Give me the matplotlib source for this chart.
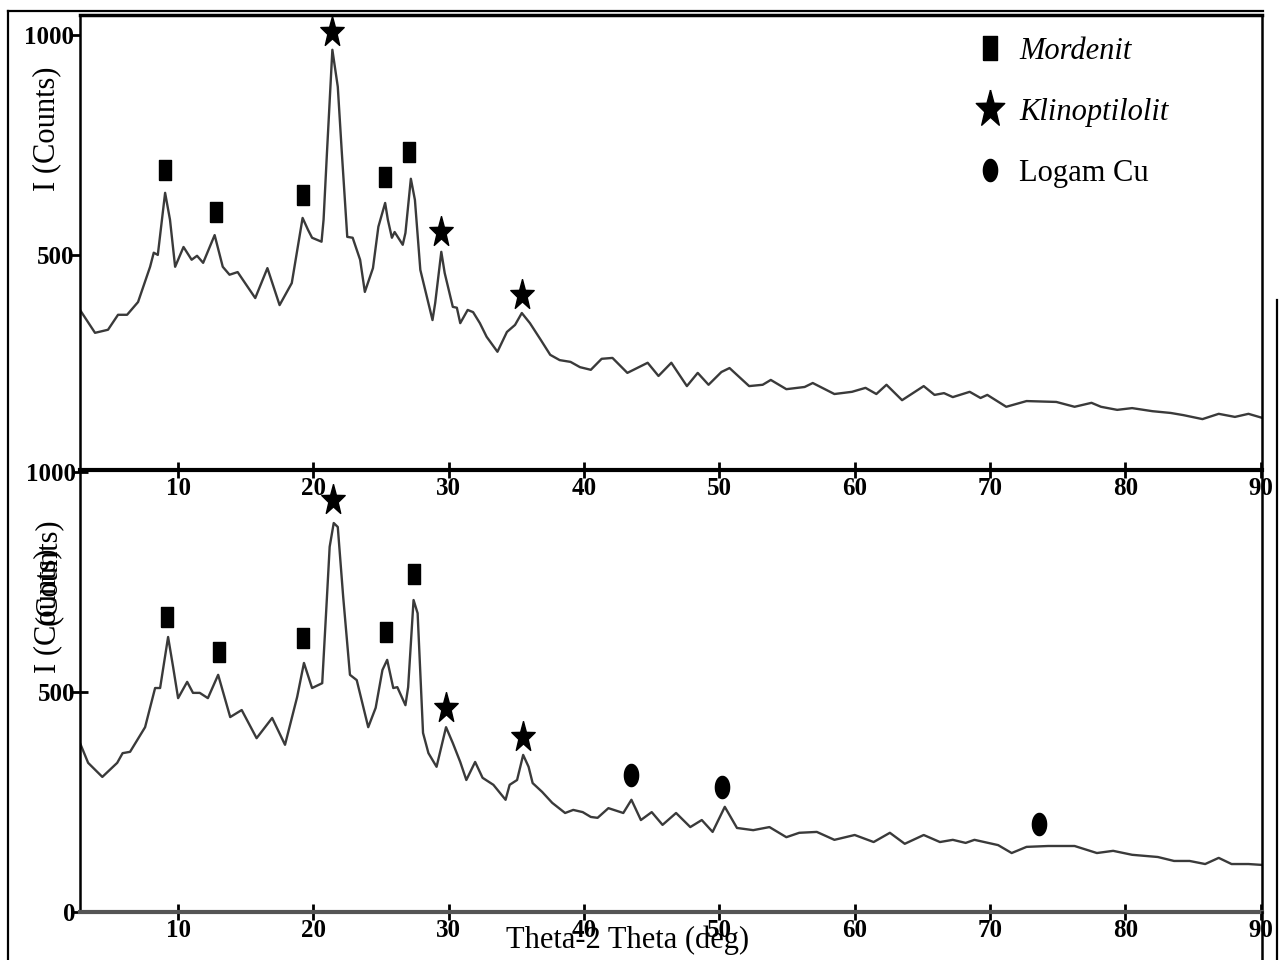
import numpy as np
import matplotlib
matplotlib.use("Agg")
from matplotlib import pyplot as plt
from matplotlib.lines import Line2D

plt.rcParams['font.family'] = ['Liberation Serif', 'DejaVu Serif']

# XRD pattern, zeolite before loading (top)
top_x = [2.75, 3.86, 4.82, 5.56, 6.23, 7.04, 7.93, 8.2, 8.5, 9.04, 9.4, 9.78, 10.4, 11.0, 11.4,
         11.85, 12.7, 13.3, 13.8, 14.4, 15.7, 16.6, 17.5, 18.4, 19.2, 19.6, 19.9, 20.6, 20.75,
         21.0, 21.4, 21.8, 22.1, 22.5, 22.9, 23.45, 23.8, 24.4, 24.8, 25.3, 25.5, 25.8, 26.0,
         26.6, 26.8, 27.2, 27.5, 27.9, 28.8, 29.0, 29.45, 29.7, 30.3, 30.6, 30.85, 31.4, 31.8,
         32.3, 32.8, 33.6, 34.3, 34.9, 35.4, 36.0, 36.8, 37.5, 38.2, 39.0, 39.7, 40.5, 41.3,
         42.1, 43.2, 44.7, 45.5, 46.45, 47.6, 48.4, 49.2, 50.15, 50.75, 52.2, 53.2, 53.8, 54.95,
         56.3, 56.9, 58.5, 59.8, 60.8, 61.6, 62.35, 63.5, 65.1, 65.9, 66.6, 67.25, 68.5, 69.3,
         69.8, 71.2, 72.7, 74.9, 76.25, 77.5, 78.2, 79.4, 80.5, 82.0, 83.35, 84.3, 85.7, 86.9,
         88.1, 89.1, 90.1]
top_y = [375, 323, 330, 364, 364, 393, 473, 505, 500, 641, 580, 473, 518, 489, 498,
         482, 545, 473, 455, 461, 402, 470, 386, 436, 584, 557, 539, 530, 580,
         732, 966, 882, 732, 541, 539, 489, 416, 470, 564, 618, 580, 539, 552,
         523, 550, 673, 625, 466, 352, 391, 507, 459, 382, 380, 345, 375, 370,
         345, 314, 280, 325, 341, 368, 345, 307, 273, 261, 257, 245, 239, 264,
         266, 232, 255, 225, 255, 202, 232, 205, 234, 243, 202, 205, 216, 195,
         200, 209, 184, 189, 198, 184, 205, 170, 202, 182, 186, 177, 189, 175,
         182, 155, 168, 166, 155, 164, 155, 148, 152, 145, 141, 136, 127, 139,
         132, 139, 130]

# XRD pattern after Cu loading (bottom)
bot_x = [2.75, 3.35, 4.4, 5.5, 5.9, 6.45, 7.56, 8.3, 8.67, 9.26, 9.63, 10.0, 10.67, 11.1, 11.6,
         12.2, 12.96, 13.85, 14.7, 15.8, 16.95, 17.9, 18.8, 19.3, 19.9, 20.65, 21.0, 21.2, 21.5,
         21.8, 22.2, 22.7, 23.2, 24.05, 24.6, 25.1, 25.45, 25.9, 26.2, 26.8, 27.0, 27.4, 27.7,
         28.1, 28.5, 29.1, 29.8, 30.3, 30.85, 31.3, 31.95, 32.5, 33.3, 34.2, 34.5, 35.05, 35.5,
         35.9, 36.2, 36.9, 37.65, 38.6, 39.2, 39.9, 40.5, 41.0, 41.8, 42.9, 43.5, 44.2, 45.0,
         45.8, 46.8, 47.85, 48.7, 49.5, 50.4, 51.3, 52.5, 53.7, 54.95, 55.9, 57.2, 58.5, 60.0,
         61.4, 62.6, 63.7, 65.1, 66.3, 67.25, 68.2, 68.85, 70.6, 71.6, 72.7, 74.3, 76.25, 77.9,
         79.1, 80.5, 82.4, 83.6, 84.75, 85.9, 86.9, 87.85, 89.1, 90.1]
bot_y = [384, 339, 307, 339, 361, 364, 420, 509, 509, 625, 557, 486, 523, 498, 498,
         486, 539, 443, 459, 395, 441, 380, 489, 566, 509, 520, 716, 830, 884,
         875, 716, 539, 527, 420, 464, 550, 573, 509, 511, 470, 511, 709, 679,
         407, 361, 330, 420, 384, 341, 300, 341, 305, 289, 255, 289, 300, 357,
         330, 293, 273, 248, 225, 232, 227, 216, 214, 236, 225, 255, 209, 227,
         198, 225, 193, 209, 182, 239, 191, 186, 193, 170, 180, 182, 164, 175,
         159, 180, 155, 175, 159, 164, 157, 164, 152, 134, 148, 150, 150, 134,
         139, 130, 125, 116, 116, 109, 123, 109, 109, 107]

# phase markers
top_mor_x = [9.04, 12.8, 19.2, 25.3, 27.1]
top_mor_y = [693, 598, 636, 677, 734]
top_kli_x = [21.4, 29.4, 35.4]
top_kli_y = [1007, 552, 409]

bot_mor_x = [9.19, 13.0, 19.2, 25.4, 27.45]
bot_mor_y = [670, 591, 623, 636, 768]
bot_kli_x = [21.46, 29.8, 35.5]
bot_kli_y = [936, 464, 398]
bot_cu_x = [43.5, 50.2, 73.6]
bot_cu_y = [311, 284, 200]

legend_labels = ['Mordenit', 'Klinoptilolit', 'Logam Cu']
xticks = [10, 20, 30, 40, 50, 60, 70, 80, 90]

# marker shapes (the scan is a bit stretched vertically)
rect = [(-0.31, -0.5), (0.31, -0.5), (0.31, 0.5), (-0.31, 0.5), (-0.31, -0.5)]
ang = np.linspace(0, 2 * np.pi, 40)
oval = list(zip(0.32 * np.sin(ang), 0.5 * np.cos(ang)))
sa = np.pi / 2 + np.arange(10) * np.pi / 5
sr = np.where(np.arange(10) % 2 == 0, 1.0, 0.40)
star = list(zip(sr * np.cos(sa), 1.3 * sr * np.sin(sa)))
star.append(star[0])

lc = '#3a3a3a'
fig = plt.figure(figsize=(12.8, 9.6), dpi=100)
W, H = 1280.0, 960.0

ax1 = fig.add_axes([80 / W, 1 - 470 / H, 1182 / W, 455 / H])
ax2 = fig.add_axes([80 / W, 1 - 912 / H, 1182 / W, 442 / H])
ax2.patch.set_visible(False)  # keep the top panel's tick labels visible

ax1.plot(top_x, top_y, color=lc, lw=1.7)
ax1.plot(top_mor_x, top_mor_y, ls='none', marker=rect, ms=15, color='black')
ax1.plot(top_kli_x, top_kli_y, ls='none', marker=star, ms=23, color='black')

ax2.plot(bot_x, bot_y, color=lc, lw=1.7)
ax2.plot(bot_mor_x, bot_mor_y, ls='none', marker=rect, ms=15, color='black')
ax2.plot(bot_kli_x, bot_kli_y, ls='none', marker=star, ms=23, color='black')
ax2.plot(bot_cu_x, bot_cu_y, ls='none', marker=oval, ms=16, color='black')

ax1.set_xlim(2.75, 90.1)
ax2.set_xlim(2.75, 90.1)
ax1.set_ylim(11.4, 1045)
ax2.set_ylim(0, 1004.5)

ax1.set_yticks([500, 1000])
ax2.set_yticks([0, 500, 1000])
for ax in (ax1, ax2):
    ax.set_xticks(xticks)
    ax.tick_params(axis='x', direction='inout', length=12, width=2, pad=-1,
                   labelsize=18, colors='black')
    ax.tick_params(axis='y', direction='out', length=7, width=2, pad=-3, labelsize=18)
    for lab in ax.get_xticklabels() + ax.get_yticklabels():
        lab.set_fontweight('bold')
    ax.spines['left'].set_linewidth(1.8)
    ax.spines['right'].set_linewidth(1.8)

ax1.spines['top'].set_linewidth(2.5)
ax1.spines['bottom'].set_linewidth(3)
ax2.spines['top'].set_visible(False)
ax2.spines['bottom'].set_linewidth(3)
ax2.spines['bottom'].set_color('#555555')
ax2.tick_params(axis='y', direction='inout', length=12)

# axis titles (the lower one is doubled in the scan)
fig.text(47 / W, 1 - 129 / H, 'I (Counts)', rotation=90, fontsize=22, ha='center', va='center')
fig.text(48 / W, 1 - 673 / H, 'I (Counts)', rotation=90, fontsize=22, ha='center', va='bottom')
fig.text(48 / W, 1 - 518 / H, '(Counts)', rotation=90, fontsize=22, ha='center', va='top')

fig.text(628 / W, 1 - 940 / H, 'Theta-2 Theta (deg)', fontsize=22, ha='center', va='center')

# legend
handles = [Line2D([], [], ls='none', marker=rect, ms=17, color='black'),
           Line2D([], [], ls='none', marker=star, ms=28, color='black'),
           Line2D([], [], ls='none', marker=oval, ms=16, color='black')]
leg = ax1.legend(handles, legend_labels, loc='upper left', frameon=False,
                 bbox_to_anchor=(0.757, 0.952), fontsize=22, borderpad=0,
                 borderaxespad=0, handlelength=1.0, handletextpad=0.45, labelspacing=1.05)
leg.get_texts()[0].set_style('italic')
leg.get_texts()[1].set_style('italic')

# scanned page frame
fig.add_artist(Line2D([8 / W, 8 / W], [0, 1 - 11 / H], color='black', lw=1.6))
fig.add_artist(Line2D([8 / W, 1263 / W], [1 - 11 / H, 1 - 11 / H], color='black', lw=1.6))
fig.add_artist(Line2D([1277 / W, 1277 / W], [0, 1 - 300 / H], color='black', lw=1.6))
fig.add_artist(Line2D([1262 / W, 1262 / W], [0, 1 - 912 / H], color='black', lw=1.8))

fig.savefig('out.png', dpi=100)
